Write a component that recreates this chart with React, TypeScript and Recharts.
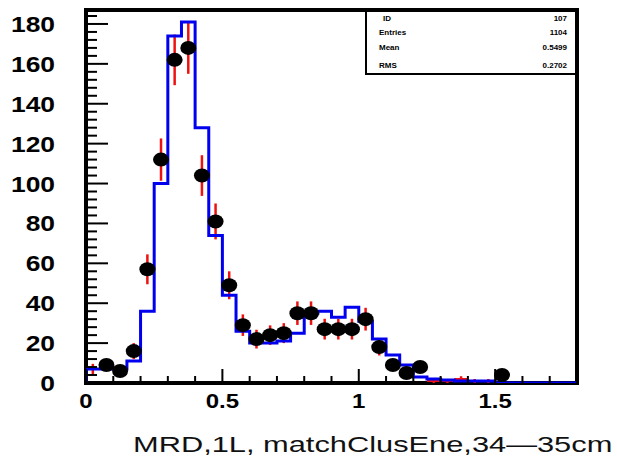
import React from 'react';
import { ComposedChart, Line, Scatter, XAxis, YAxis, ErrorBar, ReferenceArea } from 'recharts';

// histogram binning (0.05 wide bins from 0 to 1.8)
const BIN_WIDTH = 0.05;
const X_MAX = 1.8;
const Y_MAX = 187;

// measured data: counts, errors, per bin
const dataCounts = [7, 9, 6, 16, 57, 112, 162, 168, 104, 81, 49, 29, 22, 24, 25, 35, 35, 27, 27, 27, 32, 18, 9, 5, 8, 1, 1, 2, 1, 1, 4, 0, 0, 0, 0, 0];
const dataErrors = [2.6, 3, 2.4, 4, 7.5, 10.6, 12.7, 13, 10.2, 9, 7, 5.4, 4.7, 4.9, 5, 5.9, 5.9, 5.2, 5.2, 5.2, 5.7, 4.2, 3, 2.2, 2.8, 1, 1, 1.4, 1, 1, 2, 0, 0, 0, 0, 0];
// bins drawn as a bare red cross, without the black marker
const noMarkerBins = [0, 25, 26, 27, 28, 29];

// simulation (blue histogram)
const mcCounts = [7, 7, 7, 11, 36, 100, 174, 181, 128, 74, 44, 26, 20, 20, 21, 25, 35, 36, 33, 38, 31, 22, 14, 9, 3, 2, 1.5, 1, 1, 1, 0, 0, 0, 0, 0, 0];

const xTicks = [0, 0.1, 0.2, 0.3, 0.4, 0.5, 0.6, 0.7, 0.8, 0.9, 1, 1.1, 1.2, 1.3, 1.4, 1.5, 1.6, 1.7, 1.8];
const xLabels = [0, 0.5, 1, 1.5];
const yTicks = [0, 4, 8, 12, 16, 20, 24, 28, 32, 36, 40, 44, 48, 52, 56, 60, 64, 68, 72, 76, 80, 84, 88, 92, 96, 100, 104, 108, 112, 116, 120, 124, 128, 132, 136, 140, 144, 148, 152, 156, 160, 164, 168, 172, 176, 180, 184];
const yLabels = [0, 20, 40, 60, 80, 100, 120, 140, 160, 180];

// stats box rows
const statNames = ['ID', 'Entries', 'Mean', 'RMS'];
const statValues = ['107', '1104', '0.5499', '0.2702'];

const TITLE = 'MRD,1L, matchClusEne,34\u201435cm';

const points = dataCounts
  .map((y, i) => ({
    x: (i + 0.5) * BIN_WIDTH,
    y,
    err: dataErrors[i],
    xerr: BIN_WIDTH / 2,
    marker: !noMarkerBins.includes(i),
  }))
  .filter((p) => p.y > 0);

const mcEdges = [
  { x: 0, mc: 0 },
  ...mcCounts.map((v, i) => ({ x: i * BIN_WIDTH, mc: v })),
  { x: X_MAX, mc: mcCounts[mcCounts.length - 1] },
];

const labelFont = '"Liberation Sans", Arial, sans-serif';

// plot box edges, used by the tick renderers
const PLOT_LEFT = 86;
const PLOT_BOTTOM = 383;

const XTick = (props: any) => {
  const { x, payload } = props;
  const y = PLOT_BOTTOM;
  const major = xLabels.includes(payload.value);
  return (
    <g>
      <line x1={x} x2={x} y1={y} y2={y - (major ? 14 : 7)} stroke="#000" strokeWidth={2} />
      {major && (
        <g transform={`translate(${x},${y + 25}) scale(1.2,1)`}>
          <text x={0} y={0} textAnchor="middle" fontFamily={labelFont} fontWeight="bold" fontSize={20} fill="#000">
            {String(payload.value)}
          </text>
        </g>
      )}
    </g>
  );
};

const YTick = (props: any) => {
  const { y, payload } = props;
  const x = PLOT_LEFT;
  const major = yLabels.includes(payload.value);
  return (
    <g>
      <line x1={x} x2={x + (major ? 22 : 11)} y1={y} y2={y} stroke="#000" strokeWidth={2} />
      {major && (
        <g transform={`translate(${x - 31},${y + 8}) scale(1.2,1)`}>
          <text x={0} y={0} textAnchor="end" fontFamily={labelFont} fontWeight="bold" fontSize={22} fill="#000">
            {String(payload.value)}
          </text>
        </g>
      )}
    </g>
  );
};

const Marker = (props: any) => {
  const { cx, cy, payload } = props;
  if (!payload || !payload.marker) return <g />;
  return <ellipse cx={cx} cy={cy} rx={8} ry={7} fill="#000" />;
};

export default function App() {
  return (
    <div style={{ position: 'absolute', left: 0, top: 0, width: 617, height: 466, background: '#fff' }}>
      <ComposedChart
        width={617}
        height={466}
        margin={{ top: 10, right: 40, left: 56, bottom: 53 }}
      >
        <XAxis
          dataKey="x"
          type="number"
          domain={[0, X_MAX]}
          ticks={xTicks}
          interval={0}
          height={30}
          tickSize={2}
          axisLine={false}
          tickLine={false}
          tick={<XTick />}
          allowDataOverflow
        />
        <YAxis
          type="number"
          domain={[0, Y_MAX]}
          ticks={yTicks}
          interval={0}
          width={30}
          tickSize={2}
          axisLine={false}
          tickLine={false}
          tick={<YTick />}
          allowDataOverflow
        />
        <ReferenceArea x1={0} x2={X_MAX} y1={0} y2={Y_MAX} fill="none" stroke="#000" strokeWidth={4} />
        <Scatter data={points} dataKey="y" shape={<Marker />} isAnimationActive={false}>
          <ErrorBar dataKey="err" direction="y" stroke="#ee1111" strokeWidth={2.5} width={0} />
          <ErrorBar dataKey="xerr" direction="x" stroke="#ee1111" strokeWidth={2} width={0} />
        </Scatter>
        <Line
          data={mcEdges}
          dataKey="mc"
          type="stepAfter"
          stroke="#0000ee"
          strokeWidth={3}
          dot={false}
          activeDot={false}
          isAnimationActive={false}
        />
      </ComposedChart>

      {/* stats box */}
      <div
        style={{
          position: 'absolute',
          left: 365,
          top: 10,
          width: 210,
          height: 63,
          borderLeft: '2px solid #000',
          borderBottom: '2px solid #000',
          fontFamily: labelFont,
          fontWeight: 'bold',
          fontSize: 8,
          color: '#000',
        }}
      >
        {statNames.map((n, i) => (
          <div
            key={n}
            style={{
              position: 'absolute',
              left: 12,
              right: 10,
              top: [4, 18, 33, 51][i],
              display: 'flex',
              justifyContent: 'space-between',
            }}
          >
            <span style={{ marginLeft: i === 0 ? 4 : 0 }}>{n}</span>
            <span>{statValues[i]}</span>
          </div>
        ))}
      </div>

      <div
        style={{
          position: 'absolute',
          left: 133,
          top: 434,
          fontFamily: labelFont,
          fontSize: 22,
          lineHeight: '22px',
          color: '#111',
          whiteSpace: 'nowrap',
          transform: 'scaleX(1.4)',
          transformOrigin: 'left top',
        }}
      >
        {TITLE}
      </div>
    </div>
  );
}
